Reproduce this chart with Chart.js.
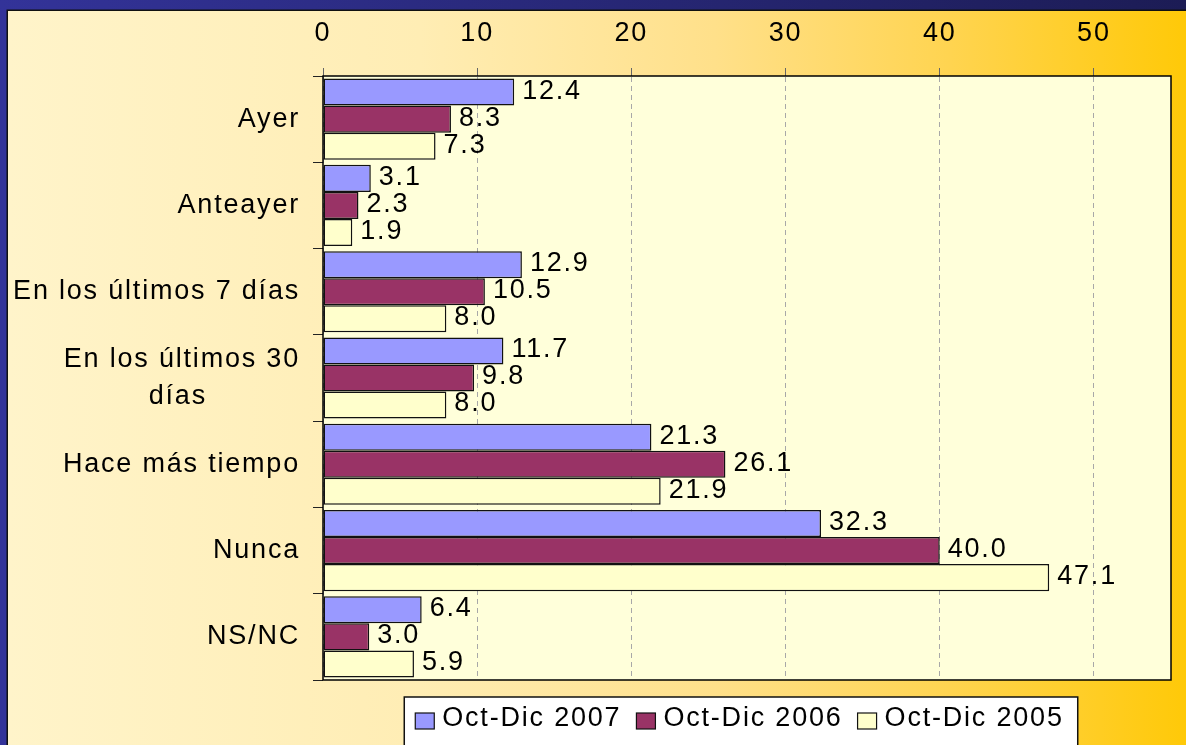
<!DOCTYPE html>
<html>
<head>
<meta charset="utf-8">
<script src="https://cdn.jsdelivr.net/npm/chart.js@4.4.0/dist/chart.umd.min.js"></script>
<style>
html, body { margin: 0; padding: 0; background: #333399; }
canvas { display: block; }
</style>
</head>
<body>
<canvas id="myChart" width="1186" height="745"></canvas>
<script>
var categories = ['Ayer', 'Anteayer', 'En los últimos 7 días', 'En los últimos 30 días', 'Hace más tiempo', 'Nunca', 'NS/NC'];
var seriesNames = ['Oct-Dic 2007', 'Oct-Dic 2006', 'Oct-Dic 2005'];
var values2007 = [12.4, 3.1, 12.9, 11.7, 21.3, 32.3, 6.4];
var values2006 = [8.3, 2.3, 10.5, 9.8, 26.1, 40.0, 3.0];
var values2005 = [7.3, 1.9, 8.0, 8.0, 21.9, 47.1, 5.9];
var xTicks = [0, 10, 20, 30, 40, 50];
var xMax = 55;

var FONT = '"Liberation Sans", Arial, sans-serif';
var SIZE = 27;
var SPACING = '1.8px';

function setSpacing(chart) {
    chart.ctx.letterSpacing = SPACING;
}

// wrap long category names and center the shorter line under the longer one
function wrapLabel(ctx, label) {
    ctx.save();
    ctx.font = SIZE + 'px ' + FONT;
    ctx.letterSpacing = SPACING;
    var limit = 295;
    if (ctx.measureText(label).width <= limit) {
        ctx.restore();
        return label;
    }
    var words = label.split(' ');
    var lines = [];
    var line = '';
    words.forEach(function (w) {
        var test = line ? line + ' ' + w : w;
        if (ctx.measureText(test).width > limit && line) {
            lines.push(line);
            line = w;
        } else {
            line = test;
        }
    });
    lines.push(line);
    var widest = Math.max.apply(null, lines.map(function (l) { return ctx.measureText(l).width; }));
    var space = ctx.measureText(' ').width;
    lines = lines.map(function (l) {
        var n = Math.round((widest - ctx.measureText(l).width) / 2 / space);
        return l + ' '.repeat(n);
    });
    ctx.restore();
    return lines;
}

var backgroundPlugin = {
    id: 'background',
    afterInit: setSpacing,
    beforeUpdate: setSpacing,
    beforeDraw: function (chart) {
        var ctx = chart.ctx, w = chart.width, h = chart.height, a = chart.chartArea;
        setSpacing(chart);
        ctx.save();
        ctx.fillStyle = '#333399';
        ctx.fillRect(0, 0, w, h);
        var topBand = ctx.createLinearGradient(0, 0, w, 0);
        topBand.addColorStop(0, '#333399');
        topBand.addColorStop(1, '#1c1c55');
        ctx.fillStyle = topBand;
        ctx.fillRect(0, 0, w, 10);
        var g = ctx.createLinearGradient(8, 0, w, 0);
        g.addColorStop(0, '#FFF4CA');
        g.addColorStop(0.35, '#FFEDB4');
        g.addColorStop(0.6, '#FFE08A');
        g.addColorStop(0.8, '#FFD450');
        g.addColorStop(1, '#FFC908');
        ctx.fillStyle = g;
        ctx.fillRect(8, 11, w - 8, h - 11);
        ctx.strokeStyle = '#111';
        ctx.lineWidth = 1.5;
        ctx.beginPath();
        ctx.moveTo(7.25, h);
        ctx.lineTo(7.25, 10.25);
        ctx.lineTo(w, 10.25);
        ctx.stroke();
        ctx.fillStyle = '#FFFFDA';
        ctx.fillRect(a.left, a.top, a.right - a.left, a.bottom - a.top);
        ctx.restore();
    }
};

var valueLabels = {
    id: 'valueLabels',
    afterDatasetsDraw: function (chart) {
        var ctx = chart.ctx, a = chart.chartArea;
        ctx.save();
        ctx.strokeStyle = '#000';
        ctx.lineWidth = 1.5;
        ctx.strokeRect(a.left, a.top, a.right - a.left, a.bottom - a.top);
        ctx.font = SIZE + 'px ' + FONT;
        ctx.letterSpacing = SPACING;
        ctx.fillStyle = '#000';
        ctx.textAlign = 'left';
        ctx.textBaseline = 'middle';
        chart.data.datasets.forEach(function (ds, i) {
            chart.getDatasetMeta(i).data.forEach(function (bar, j) {
                ctx.fillText(ds.data[j].toFixed(1), bar.x + 8, bar.y - 1);
            });
        });
        ctx.restore();
    }
};

var boxLegend = {
    id: 'boxLegend',
    afterDraw: function (chart) {
        var ctx = chart.ctx, a = chart.chartArea;
        ctx.save();
        ctx.font = SIZE + 'px ' + FONT;
        ctx.letterSpacing = SPACING;
        var sw = 19, sh = 16, gapText = 8, gapItem = 15, padL = 11, padR = 14;
        var widths = chart.data.datasets.map(function (d) { return ctx.measureText(d.label).width; });
        var total = widths.reduce(function (s, w) { return s + sw + gapText + w; }, 0) + gapItem * (widths.length - 1);
        var boxW = total + padL + padR;
        var cx = (a.left + a.right) / 2 - 6;
        var left = cx - boxW / 2, top = a.bottom + 17;
        ctx.fillStyle = '#fff';
        ctx.fillRect(left, top, boxW, chart.height - top + 10);
        ctx.strokeStyle = '#111';
        ctx.lineWidth = 1.5;
        ctx.strokeRect(left, top, boxW, chart.height - top + 10);
        var baseline = top + 29;
        var x = left + padL;
        ctx.textBaseline = 'alphabetic';
        ctx.textAlign = 'left';
        chart.data.datasets.forEach(function (d, i) {
            ctx.fillStyle = d.backgroundColor;
            ctx.fillRect(x, baseline - 13, sw, sh);
            ctx.strokeStyle = '#111';
            ctx.lineWidth = 1.2;
            ctx.strokeRect(x, baseline - 13, sw, sh);
            ctx.fillStyle = '#000';
            ctx.fillText(d.label, x + sw + gapText, baseline);
            x += sw + gapText + widths[i] + gapItem;
        });
        ctx.restore();
    }
};

var ctx = document.getElementById('myChart').getContext('2d');
var myChart = new Chart(ctx, {
    type: 'bar',
    data: {
        labels: categories,
        datasets: [{
            label: seriesNames[0],
            data: values2007,
            backgroundColor: '#9999FF',
            borderColor: '#111',
            borderWidth: 1.5,
            borderSkipped: false
        },
        {
            label: seriesNames[1],
            data: values2006,
            backgroundColor: '#993366',
            borderColor: '#111',
            borderWidth: 1.5,
            borderSkipped: false
        },
        {
            label: seriesNames[2],
            data: values2005,
            backgroundColor: '#FFFFCC',
            borderColor: '#111',
            borderWidth: 1.5,
            borderSkipped: false
        }]
    },
    options: {
        indexAxis: 'y',
        responsive: false,
        animation: false,
        categoryPercentage: 0.94,
        barPercentage: 1,
        layout: {
            padding: { left: 8, top: 11, right: 15, bottom: 65 }
        },
        plugins: {
            legend: { display: false },
            tooltip: { enabled: false }
        },
        scales: {
            x: {
                position: 'top',
                min: 0,
                max: xMax,
                afterBuildTicks: function (scale) {
                    scale.ticks = xTicks.map(function (v) { return { value: v }; });
                },
                afterFit: function (scale) {
                    scale.height = 65;
                },
                ticks: {
                    color: '#000',
                    padding: 18,
                    font: { family: FONT, size: SIZE }
                },
                grid: {
                    color: '#a8a8a8',
                    tickColor: '#666',
                    tickLength: 8,
                    lineWidth: 1,
                    borderDash: [5, 4]
                },
                border: { display: true, color: 'rgba(0,0,0,0)', dash: [5, 4] }
            },
            y: {
                afterFit: function (scale) {
                    scale.width = 315;
                },
                ticks: {
                    color: '#000',
                    padding: 13,
                    font: { family: FONT, size: SIZE, lineHeight: 1.38 },
                    callback: function (value) {
                        return wrapLabel(this.chart.ctx, this.getLabelForValue(value));
                    }
                },
                grid: {
                    drawOnChartArea: false,
                    tickLength: 10,
                    tickColor: '#222',
                    offset: true
                },
                border: { display: false }
            }
        }
    },
    plugins: [backgroundPlugin, valueLabels, boxLegend]
});
</script>
</body>
</html>
